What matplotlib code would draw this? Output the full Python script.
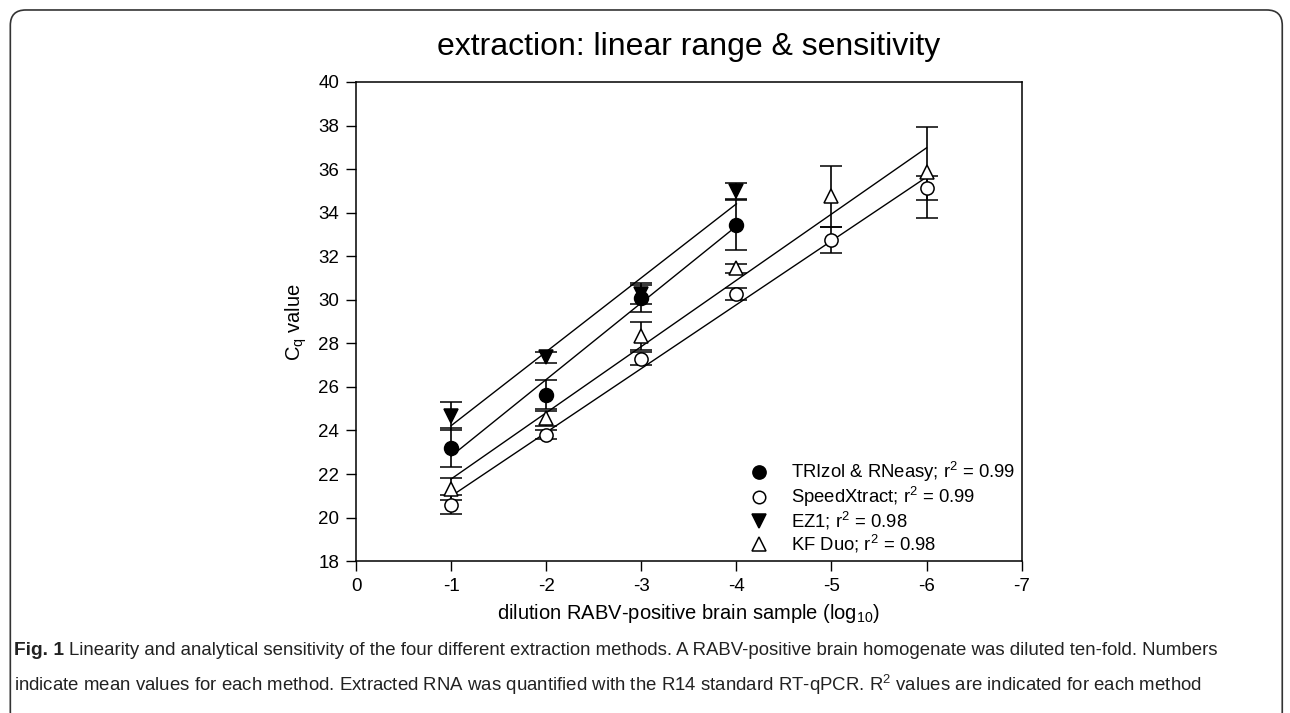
"""
extraction linearity chart: Cq value vs dilution for four methods
"""
import matplotlib.pyplot as plt
import numpy as np
from matplotlib.patches import FancyBboxPatch

plt.rcParams["font.family"] = ["Liberation Sans", "DejaVu Sans"]
plt.rcParams["mathtext.fontset"] = "custom"
plt.rcParams["mathtext.rm"] = "Liberation Sans"
plt.rcParams["mathtext.it"] = "Liberation Sans:italic"
plt.rcParams["axes.unicode_minus"] = False

# dilution steps (log10)
dil_short = [-1, -2, -3, -4]
dil_long = [-1, -2, -3, -4, -5, -6]

# mean Cq values and error bars per method
trizol_cq = [23.2, 25.65, 30.1, 33.45]
trizol_err = [0.9, 0.65, 0.65, 1.15]
speed_cq = [20.6, 23.8, 27.3, 30.25, 32.75, 35.15]
speed_err = [0.45, 0.2, 0.3, 0.27, 0.58, 0.55]
ez1_cq = [24.65, 27.35, 30.25, 35.0]
ez1_err = [0.65, 0.25, 0.45, 0.37]
kf_cq = [21.3, 24.55, 28.35, 31.45, 34.75, 35.85]
kf_err = [0.5, 0.35, 0.65, 0.2, 1.4, 2.1]

labels = [
    "TRIzol & RNeasy; r$^2$ = 0.99",
    "SpeedXtract; r$^2$ = 0.99",
    "EZ1; r$^2$ = 0.98",
    "KF Duo; r$^2$ = 0.98",
]

y_ticks = list(range(18, 41, 2))
x_ticks = list(range(0, -8, -1))

caption_1 = ("Linearity and analytical sensitivity of the four different extraction methods. "
             "A RABV-positive brain homogenate was diluted ten-fold. Numbers")
caption_2 = ("indicate mean values for each method. Extracted RNA was quantified with the R14 "
             "standard RT-qPCR. R$^2$ values are indicated for each method")


def main():
    fig = plt.figure(figsize=(12.9, 7.13), dpi=100)
    ax = fig.add_axes([0.276, 0.213, 0.516, 0.672])

    series = [
        (dil_short, trizol_cq, trizol_err, "o", "black", 10),
        (dil_long, speed_cq, speed_err, "o", "white", 9.5),
        (dil_short, ez1_cq, ez1_err, "v", "black", 10),
        (dil_long, kf_cq, kf_err, "^", "white", 10),
    ]
    handles = []
    for (xs, ys, err, mk, fc, ms), lab in zip(series, labels):
        xs = np.array(xs, dtype=float)
        ys = np.array(ys)
        # regression line through the means
        slope, icpt = np.polyfit(xs, ys, 1)
        ax.plot(xs, slope * xs + icpt, color="black", lw=1.0, zorder=2)
        ax.errorbar(xs, ys, yerr=err, fmt=mk, color="black", mfc=fc,
                    mec="black", ms=ms, mew=1.1, elinewidth=1.2,
                    capsize=8, capthick=1.0, zorder=3)
        h, = ax.plot([], [], mk, mfc=fc, mec="black", ms=ms - 0.5, mew=1.1,
                     label=lab)
        handles.append(h)

    ax.set_xlim(0, -7)
    ax.set_ylim(18, 40)
    ax.set_xticks(x_ticks)
    ax.set_yticks(y_ticks)
    ax.tick_params(direction="out", length=7, width=1, labelsize=13.5,
                   pad=5, top=False, right=False)
    for s in ax.spines.values():
        s.set_linewidth(1.1)

    ax.set_ylabel("C$_\\mathregular{q}$ value", fontsize=14.5, labelpad=7)
    ax.set_xlabel("dilution RABV-positive brain sample (log$_\\mathregular{10}$)",
                  fontsize=14.5, labelpad=5)
    fig.text(0.534, 0.934, "extraction: linear range & sensitivity",
             ha="center", va="center", fontsize=23)

    ax.legend(handles=handles, loc="lower right", bbox_to_anchor=(1.0, 0.0),
              frameon=False, fontsize=13.3, handletextpad=0.7, labelspacing=0.04,
              borderaxespad=0.15, borderpad=0.2)

    # caption below the chart
    cap_font = ["Liberation Sans Narrow", "Liberation Sans", "DejaVu Sans"]
    fig.canvas.draw()
    rend = fig.canvas.get_renderer()
    t = fig.text(0.011, 0.087, "Fig. 1", fontsize=13.8, fontweight="bold",
                 family=cap_font, color="#222222", va="center")
    bb = t.get_window_extent(rend)
    x2 = (bb.x1 + 5) / fig.bbox.width
    fig.text(x2, 0.087, caption_1, fontsize=13.4, family=cap_font,
             color="#222222", va="center")
    fig.text(0.011, 0.039, caption_2, fontsize=13.4, family=cap_font,
             color="#222222", va="center")

    # rounded frame around the whole figure
    frame = FancyBboxPatch((0.008, -0.02), 0.986, 1.006,
                           boxstyle="round,pad=0,rounding_size=0.012",
                           transform=fig.transFigure, fill=False,
                           ec="#333333", lw=1.2, mutation_aspect=1.8)
    fig.patches.append(frame)

    fig.savefig("out.png", dpi=100)


if __name__ == "__main__":
    main()
